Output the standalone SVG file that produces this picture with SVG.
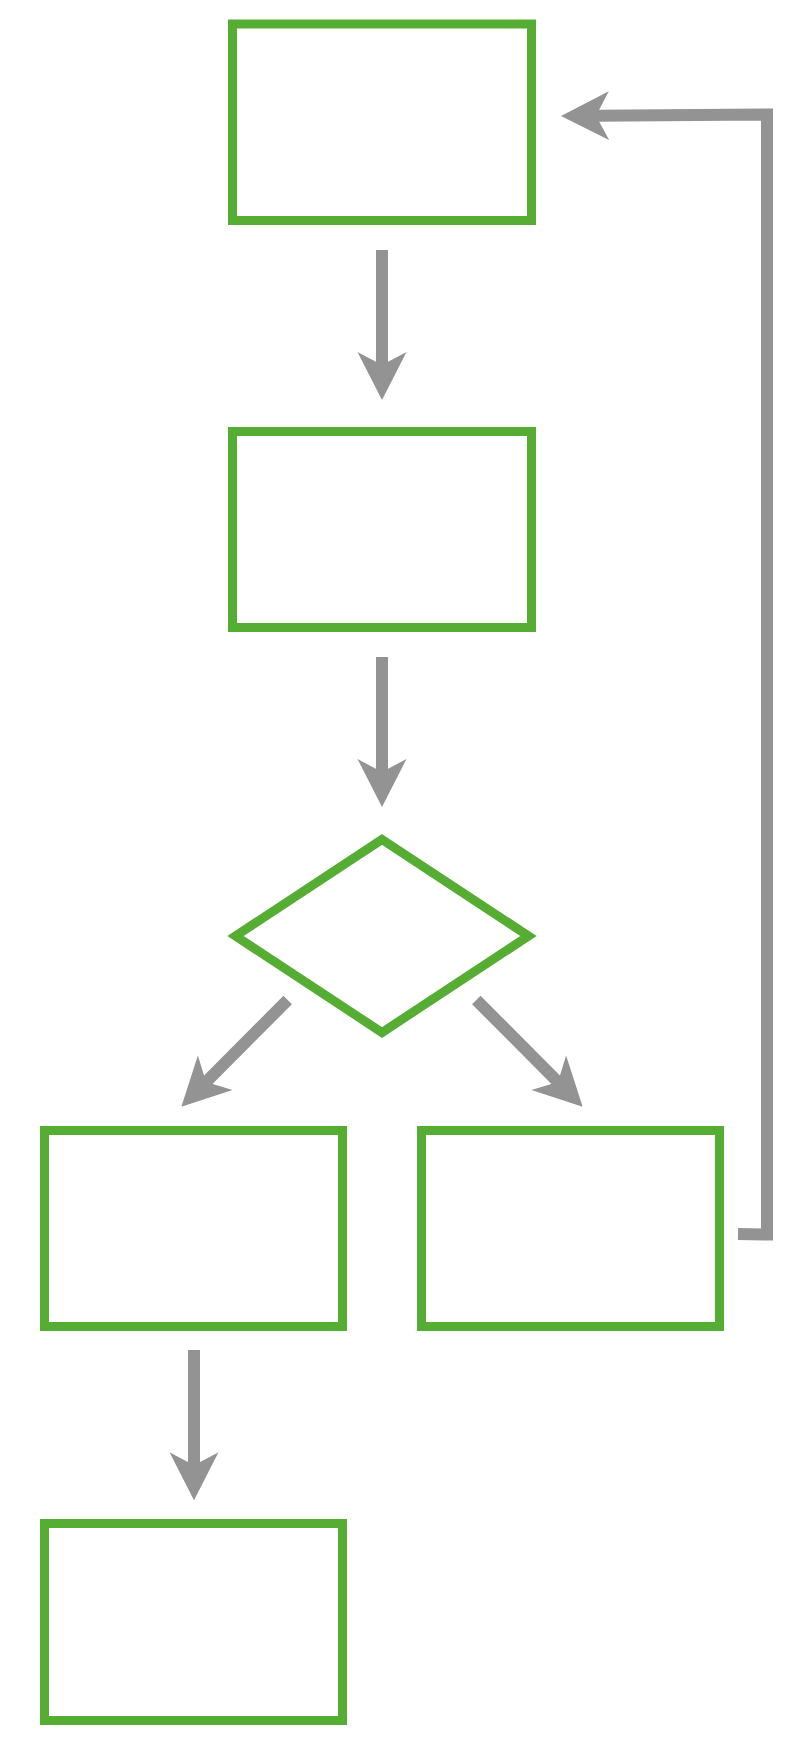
<svg xmlns="http://www.w3.org/2000/svg" width="810" height="1746" viewBox="0 0 810 1746">
  <style>
    .node { fill: #ffffff; stroke: #56ad34; stroke-width: 9; stroke-linejoin: miter; }
    .edge { fill: none; stroke: #939393; stroke-width: 12; stroke-linecap: butt; stroke-linejoin: miter; marker-end: url(#head); }
  </style>
  <defs>
    <marker id="head" markerUnits="userSpaceOnUse" viewBox="0 -25 49 50" markerWidth="49" markerHeight="50" refX="13" refY="0" orient="auto">
      <path d="M0,-24.5 L48,0 L0,24.5 L13,0 Z" fill="#939393"/>
    </marker>
  </defs>
  <rect width="810" height="1746" fill="#ffffff"/>
  <g id="node-1"><rect class="node" x="232.5" y="24" width="299" height="196.5"/></g>
  <g id="node-2"><rect class="node" x="232.5" y="431.5" width="299" height="196"/></g>
  <g id="node-3"><polygon class="node" points="382,839.5 528.5,936 382,1032.5 235.5,936"/></g>
  <g id="node-4"><rect class="node" x="44.5" y="1130.5" width="298" height="196"/></g>
  <g id="node-5"><rect class="node" x="421.5" y="1130.5" width="298" height="196"/></g>
  <g id="node-6"><rect class="node" x="44.5" y="1523.5" width="298" height="197"/></g>
  <g id="connectors">
    <path class="edge" d="M382,250 L382,365"/>
    <path class="edge" d="M382,657 L382,772"/>
    <path class="edge" d="M287.7,1000 L206.05,1081.95"/>
    <path class="edge" d="M476.3,1000 L557.95,1081.95"/>
    <path class="edge" d="M194,1350 L194,1465.3"/>
    <path class="edge" d="M738,1234 L767,1234.5 L767,114.5 L596,115.8"/>
  </g>
</svg>
